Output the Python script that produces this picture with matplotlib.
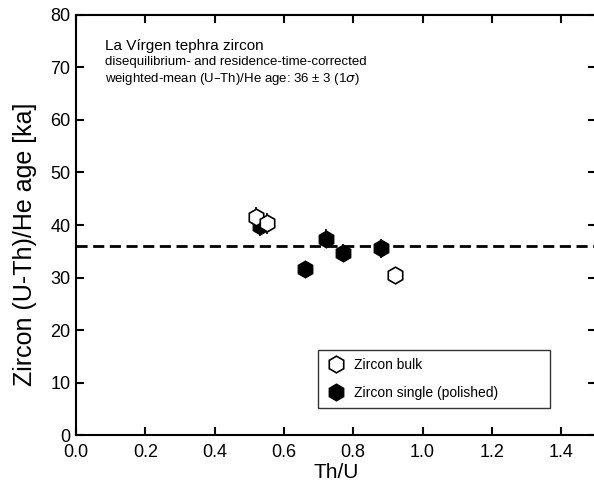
import matplotlib
matplotlib.use("Agg")
from matplotlib import pyplot as plt
from matplotlib.lines import Line2D

plt.rcParams['font.family'] = ['Liberation Sans', 'DejaVu Sans']

# zircon bulk (open hexagons)
bulkThU = [0.52, 0.55, 0.92]
bulkAge = [41.5, 40.3, 30.4]
bulkErr = [2.0, 2.0, 1.6]

# zircon single, polished (filled hexagons)
singleThU = [0.53, 0.66, 0.72, 0.77, 0.88]
singleAge = [39.8, 31.6, 37.4, 34.7, 35.6]
singleErr = [1.8, 1.6, 1.8, 1.6, 1.8]

meanAge = 36

fig = plt.figure(figsize=(5.94, 4.94), dpi=100)
ax = fig.add_axes([0.128, 0.119, 0.875, 0.851])

ax.axhline(meanAge, color="black", linestyle=(0, (4, 2)), linewidth=2, zorder=1)

ax.errorbar(singleThU, singleAge, yerr=singleErr, fmt='none', ecolor="black", elinewidth=1.2, zorder=2)
ax.errorbar(bulkThU, bulkAge, yerr=bulkErr, fmt='none', ecolor="black", elinewidth=1.2, zorder=2)
ax.plot(singleThU, singleAge, linestyle='None', marker='h', markersize=12,
        markerfacecolor="black", markeredgecolor="black", zorder=3)
ax.plot(bulkThU, bulkAge, linestyle='None', marker='h', markersize=12,
        markerfacecolor="white", markeredgecolor="black", markeredgewidth=1.2, zorder=4)

ax.set_xlim(0, 1.5)
ax.set_ylim(0, 80)
ax.set_xticks([0.0, 0.2, 0.4, 0.6, 0.8, 1.0, 1.2, 1.4])
ax.set_xticklabels(["0.0", "0.2", "0.4", "0.6", "0.8", "1.0", "1.2", "1.4"])
ax.set_yticks(range(0, 81, 10))
ax.tick_params(direction="in", top=True, right=True, length=6, width=1.5, labelsize=13)
ax.tick_params(axis="x", pad=6)
ax.tick_params(axis="y", pad=4)
for s in ax.spines.values():
    s.set_linewidth(1.5)

ax.set_xlabel("Th/U", fontsize=15, labelpad=2)
ax.set_ylabel("Zircon (U-Th)/He age [ka]", fontsize=18)
ax.yaxis.set_label_coords(-0.075, 0.455)

ax.text(0.056, 0.943, "La Vírgen tephra zircon", transform=ax.transAxes, fontsize=11, va="top")
ax.text(0.056, 0.902, "disequilibrium- and residence-time-corrected", transform=ax.transAxes, fontsize=9.5, va="top")
ax.text(0.056, 0.867, "weighted-mean (U\u2013Th)/He age: 36 \u00b1 3 (1$\\sigma$)", transform=ax.transAxes, fontsize=9.5, va="top")

handles = [
    Line2D([], [], linestyle='None', marker='h', markersize=12, markerfacecolor="white",
           markeredgecolor="black", markeredgewidth=1.2, label="Zircon bulk"),
    Line2D([], [], linestyle='None', marker='h', markersize=12, markerfacecolor="black",
           markeredgecolor="black", label="Zircon single (polished)"),
]
leg = ax.legend(handles=handles, loc="lower left", bbox_to_anchor=(0.465, 0.064, 0.447, 0.19),
                mode="expand", fontsize=10, frameon=True, fancybox=False, borderpad=0.6,
                borderaxespad=0, handletextpad=0.6, labelspacing=1.0, handlelength=1.4)
leg.get_frame().set_edgecolor("black")
leg.get_frame().set_linewidth(1.0)

plt.savefig("out.png", dpi=100)
